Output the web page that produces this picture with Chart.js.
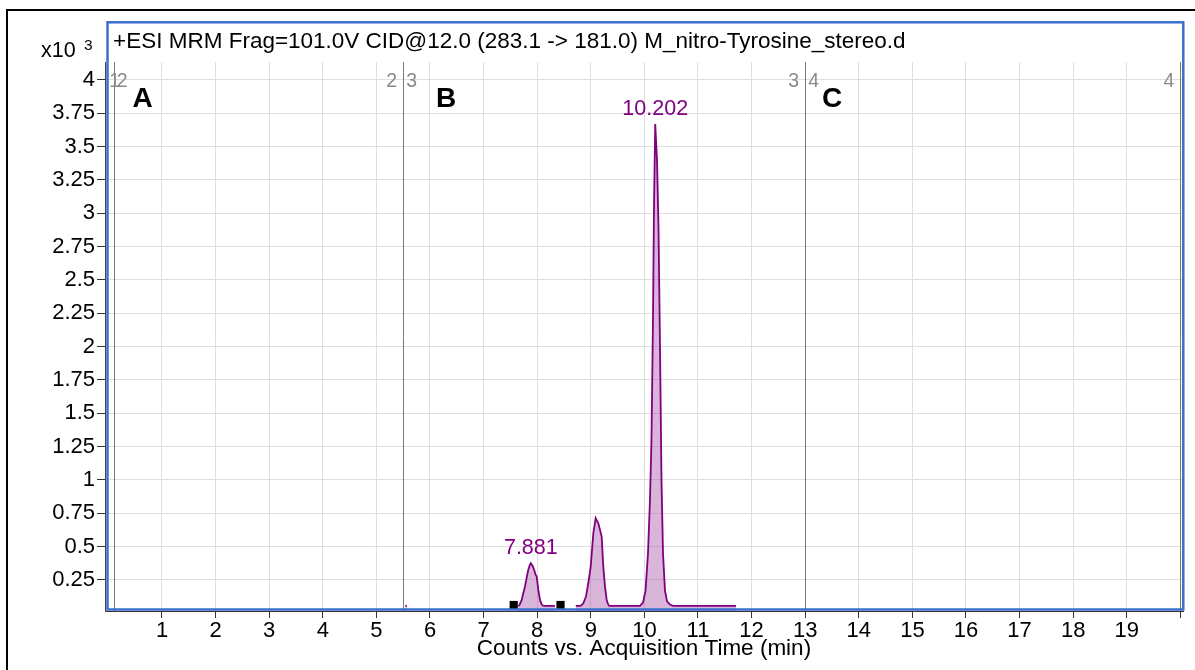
<!DOCTYPE html>
<html>
<head>
<meta charset="utf-8">
<script src="https://cdn.jsdelivr.net/npm/chart.js@4.4.1/dist/chart.umd.min.js"></script>
<style>
  html, body { margin: 0; padding: 0; background: #fff; }
  canvas { display: block; }
</style>
</head>
<body>
<canvas id="chromatogram" width="1195" height="670"></canvas>
<script>
const FONT = '"Liberation Sans", Arial, Helvetica, sans-serif';

// MRM trace: acquisition time (min) and counts (x10^3); null breaks the trace
const traceTime = [
  5.540, 5.570, 5.600,
  7.647, 7.666, 7.711, 7.740, 7.772, 7.800, 7.830, 7.860, 7.881, 7.915, 7.944,
  7.970, 7.991, 8.021, 8.052, 8.080, 8.103, 8.140, 8.330, 8.500,
  8.720, 8.799, 8.830, 8.860, 8.910, 8.953, 8.998, 9.047, 9.091, 9.140, 9.175,
  9.203, 9.233, 9.265, 9.297, 9.320, 9.345,
  9.918, 9.974, 10.021, 10.067, 10.104, 10.132, 10.160, 10.179, 10.202, 10.235,
  10.263, 10.291, 10.319, 10.347, 10.384, 10.422, 10.478, 10.534, 11.709
];
const traceCounts = [
  0.055, 0.055, null,
  0.055, 0.060, 0.100, 0.150, 0.200, 0.260, 0.320, 0.360, 0.375, 0.355, 0.325,
  0.290, 0.275, 0.175, 0.100, 0.070, 0.058, 0.055, 0.055, null,
  0.055, 0.055, 0.062, 0.075, 0.125, 0.225, 0.350, 0.600, 0.713, 0.675, 0.620,
  0.575, 0.350, 0.200, 0.100, 0.070, 0.055,
  0.055, 0.080, 0.170, 0.450, 0.850, 1.300, 2.200, 3.050, 3.670, 3.400,
  2.900, 2.000, 1.000, 0.450, 0.170, 0.090, 0.065, 0.055, 0.055
];

// Integration start / end markers
const markerTime = [7.562, 8.435];
const markerCounts = [0.062, 0.062];

// Labelled peak retention times (min)
const peakTimes = [7.881, 10.202];

// Acquisition segments: end times (min) and segment letters
const segmentEnds = [0.1, 5.5, 13.0, 20.0];
const segmentNames = ['A', 'B', 'C'];

// Axis ticks
const xTicks = [1, 2, 3, 4, 5, 6, 7, 8, 9, 10, 11, 12, 13, 14, 15, 16, 17, 18, 19, 20];
const yTicks = [0.25, 0.5, 0.75, 1, 1.25, 1.5, 1.75, 2, 2.25, 2.5, 2.75, 3, 3.25, 3.5, 3.75, 4];

const chartTitle = '+ESI MRM Frag=101.0V CID@12.0 (283.1 -> 181.0) M_nitro-Tyrosine_stereo.d';
const xTitle = 'Counts vs. Acquisition Time (min)';

Chart.defaults.font.family = FONT;
Chart.defaults.font.size = 22;
Chart.defaults.color = '#000';

// Frame, title, segment markers and peak annotations
const decorations = {
  id: 'decorations',
  afterDraw(chart, args, opts) {
    const { ctx, chartArea: area } = chart;
    const xs = chart.scales.x, ys = chart.scales.y;
    ctx.save();

    // segment boundaries
    ctx.strokeStyle = '#7a7a7a';
    ctx.lineWidth = 1;
    segmentEnds.forEach(t => {
      const px = Math.round(xs.getPixelForValue(t)) + 0.5;
      ctx.beginPath();
      ctx.moveTo(px, area.top);
      ctx.lineTo(px, area.bottom);
      ctx.stroke();
    });

    // segment numbers either side of each boundary
    ctx.fillStyle = '#8a8a8a';
    ctx.font = '19.5px ' + FONT;
    ctx.textBaseline = 'alphabetic';
    segmentEnds.forEach((t, i) => {
      const px = xs.getPixelForValue(t);
      ctx.textAlign = 'right';
      ctx.fillText(String(i + 1), Math.max(px - 6, area.left + 15), opts.segmentLabelBaseline);
      if (i + 1 < segmentEnds.length) {
        ctx.textAlign = 'left';
        ctx.fillText(String(i + 2), px + 3, opts.segmentLabelBaseline);
      }
    });

    // segment letters
    ctx.fillStyle = '#000';
    ctx.font = 'bold 28px ' + FONT;
    ctx.textAlign = 'center';
    segmentNames.forEach((name, i) => {
      ctx.fillText(name, xs.getPixelForValue(opts.segmentNameAt[i]), opts.segmentNameBaseline);
    });

    // retention time labels above the peak apex
    ctx.fillStyle = '#800080';
    ctx.font = '21.5px ' + FONT;
    peakTimes.forEach(t => {
      const idx = traceTime.indexOf(t);
      const px = xs.getPixelForValue(t);
      const py = ys.getPixelForValue(traceCounts[idx]);
      ctx.fillText(t.toFixed(3), px, py - 9);
    });

    // blue plot frame (encloses the title line)
    ctx.strokeStyle = '#3a6fce';
    ctx.lineWidth = 2.5;
    ctx.strokeRect(area.left + 2.5, 22.3, area.right - area.left - 2.2, area.bottom - 1.5 - 22.3);

    // outer frame
    ctx.strokeStyle = '#000';
    ctx.lineWidth = 2;
    ctx.beginPath();
    ctx.moveTo(7, 670);
    ctx.lineTo(7, 10);
    ctx.lineTo(1195, 10);
    ctx.stroke();

    // title
    ctx.fillStyle = '#000';
    ctx.textAlign = 'left';
    ctx.font = '22.5px ' + FONT;
    ctx.fillText(chartTitle, 113, 48);

    // y multiplier
    ctx.font = '21.5px ' + FONT;
    ctx.fillText('x10', 41, 56.5);
    ctx.font = '15.5px ' + FONT;
    ctx.fillText('3', 84, 50);

    ctx.restore();
  }
};

new Chart(document.getElementById('chromatogram'), {
  data: {
    datasets: [
      {
        type: 'line',
        label: 'trace',
        data: traceTime.map((t, i) => ({ x: t, y: traceCounts[i] })),
        borderColor: '#800080',
        borderWidth: 1.8,
        backgroundColor: 'rgba(170,90,170,0.45)',
        fill: 'origin',
        pointRadius: 0,
        tension: 0,
        spanGaps: false
      },
      {
        type: 'line',
        label: 'markers',
        data: markerTime.map((t, i) => ({ x: t, y: markerCounts[i] })),
        showLine: false,
        pointStyle: 'rect',
        pointRadius: 5.8,
        pointBackgroundColor: '#000',
        pointBorderWidth: 0
      }
    ]
  },
  options: {
    responsive: false,
    animation: false,
    devicePixelRatio: 1,
    layout: { padding: { top: 62, right: 12, left: 0, bottom: 0 } },
    scales: {
      x: {
        type: 'linear',
        min: -0.0634,
        max: 20.0485,
        afterBuildTicks: s => { s.ticks = xTicks.map(v => ({ value: v })); },
        afterFit: s => { s.height = 59; },
        ticks: {
          autoSkip: false,
          maxRotation: 0,
          padding: 0,
          color: '#000',
          callback: v => (v === 20 ? '' : String(v))
        },
        grid: { color: '#dedede', lineWidth: 1, tickLength: 7, tickColor: '#333' },
        border: { display: true, color: '#333', width: 1 },
        title: { display: true, text: xTitle, font: { size: 22.5 }, padding: { top: 0, bottom: 8 }, color: '#000' }
      },
      y: {
        type: 'linear',
        min: 0.017,
        max: 4.135,
        afterBuildTicks: s => { s.ticks = yTicks.map(v => ({ value: v })); },
        afterFit: s => { s.width = 105; },
        ticks: { padding: 2, color: '#000', callback: v => String(v) },
        grid: { color: '#dedede', lineWidth: 1, tickLength: 8, tickColor: '#333' },
        border: { display: true, color: '#444', width: 1 }
      }
    },
    plugins: {
      legend: { display: false },
      tooltip: { enabled: false },
      decorations: {
        segmentLabelBaseline: 86.5,
        segmentNameBaseline: 107,
        segmentNameAt: [0.64, 6.3, 13.5]
      }
    }
  },
  plugins: [decorations]
});
</script>
</body>
</html>
